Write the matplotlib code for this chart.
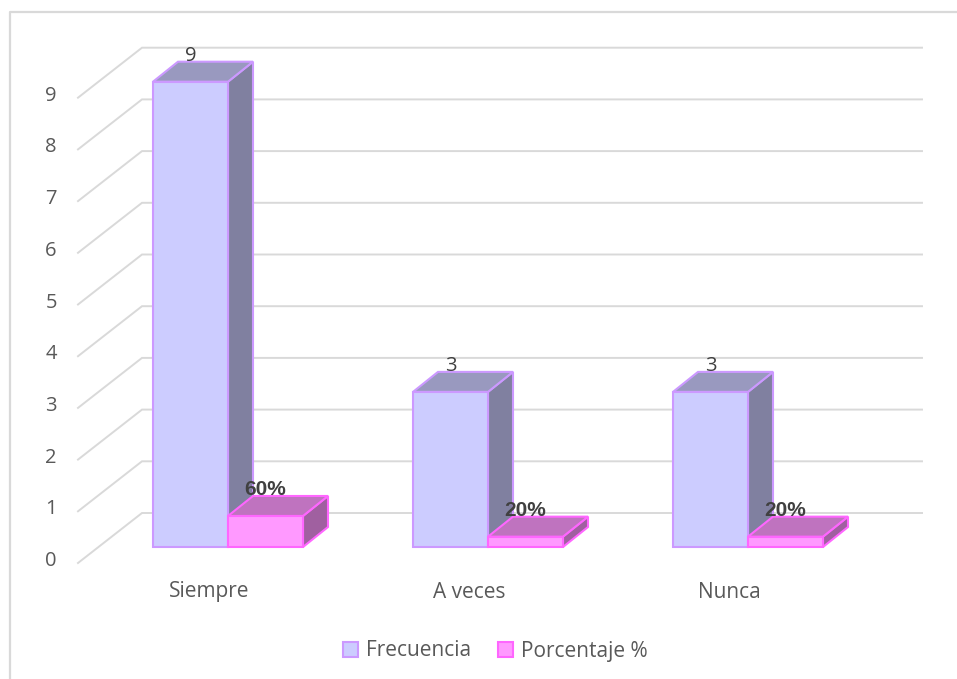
import numpy as np
import matplotlib as mpl
mpl.use('Agg')
import matplotlib.pyplot as plt
from matplotlib.patches import Polygon, Patch
from matplotlib.lines import Line2D

categories = ['Siempre', 'A veces', 'Nunca']
frecuencia = [9, 3, 3]
porcentaje = [60, 20, 20]
yticks = [0, 1, 2, 3, 4, 5, 6, 7, 8, 9]

plt.rcParams['font.family'] = ['Open Sans', 'DejaVu Sans']

W, H = 957, 679
PXY = 51.7   # pixels per value unit
PXX = 260.0  # pixels per category
X0, Y0 = 228.0, 547.0  # pixel of first category / value 0 on bar plane

fig = plt.figure(figsize=(W / 100, H / 100), dpi=100)
ax = fig.add_axes([0, 0, 1, 1])
ax.set_xlim(-X0 / PXX, (W - X0) / PXX)
ax.set_ylim((Y0 - H) / PXY, Y0 / PXY)
ax.axis('off')

# outer frame, only top and left show
ax.add_line(Line2D([10 / W, 10 / W, 1], [0, 1 - 12 / H, 1 - 12 / H], transform=ax.transAxes,
                   color='#d9d9d9', lw=1.6))

# walls and gridlines
grid_c = '#d9d9d9'
back = 34 / PXY
front = -16 / PXY
xl_front = (78 - X0) / PXX
xl_back = (142 - X0) / PXX
x_right = (922 - X0) / PXX
for v in yticks:
    ax.plot([xl_front, xl_back, x_right], [v + front, v + back, v + back],
            color=grid_c, lw=1.4, solid_joinstyle='miter', zorder=1)
    ax.text((51 - X0) / PXX, v - 14 / PXY, str(v), ha='center', va='center',
            fontsize=14.5, color='#595959')

bar_w = 75 / PXX
dx = 25 / PXX
dy = 20 / PXY


def bar3d(x, h, front_c, top_c, side_c, edge_c):
    x2 = x + bar_w
    faces = [
        ([(x2, 0), (x2 + dx, dy), (x2 + dx, h + dy), (x2, h)], side_c),
        ([(x, h), (x + dx, h + dy), (x2 + dx, h + dy), (x2, h)], top_c),
        ([(x, 0), (x2, 0), (x2, h), (x, h)], front_c),
    ]
    for pts, c in faces:
        ax.add_patch(Polygon(pts, closed=True, facecolor=c, edgecolor=edge_c,
                             lw=1.5, joinstyle='miter', zorder=3))


for i in range(len(categories)):
    bar3d(i - bar_w, frecuencia[i], '#ccccff', '#9999bf', '#8080a0', '#cc99ff')
    ax.text(i - bar_w / 2, frecuencia[i] + 26 / PXY, str(frecuencia[i]), ha='center', va='center',
            fontsize=14.5, color='#404040', zorder=6)

for i in range(len(categories)):
    h = porcentaje[i] / 100
    bar3d(i, h, '#ff99ff', '#bf73bf', '#a060a0', '#ff66ff')
    ax.text(i + bar_w / 2, h + 26 / PXY, '%d%%' % porcentaje[i], ha='center', va='center',
            fontsize=15, fontweight='bold', color='#404040', zorder=6, family='Liberation Sans')
    ax.text(i - 19 / PXX, (Y0 - 592) / PXY, categories[i], ha='center', va='center',
            fontsize=15, color='#595959')

handles = [Patch(facecolor='#ccccff', edgecolor='#cc99ff', lw=1.5, label='Frecuencia'),
           Patch(facecolor='#ff99ff', edgecolor='#ff66ff', lw=1.5, label='Porcentaje %')]
ax.legend(handles=handles, ncol=2, loc='center', bbox_to_anchor=(495 / W, 1 - 651 / H),
          frameon=False, fontsize=15, labelcolor='#595959', handlelength=0.75, handleheight=0.75,
          handletextpad=0.35, columnspacing=1.3)

plt.savefig('out.png', dpi=100)
